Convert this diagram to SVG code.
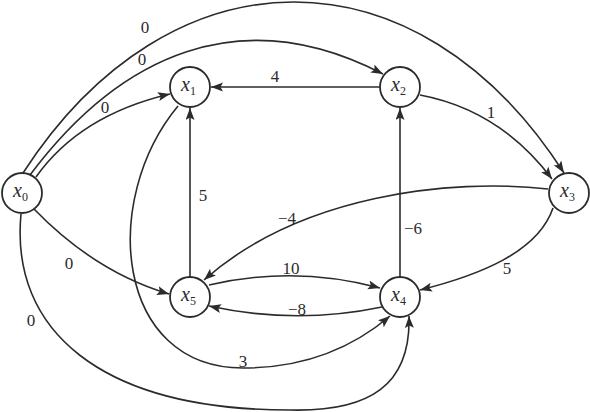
<svg xmlns="http://www.w3.org/2000/svg" width="590" height="412" viewBox="0 0 590 412">
<style>
.e{fill:none;stroke:#2b2b2b;stroke-width:1.6;marker-end:url(#ah)}
.n circle{fill:#fff;stroke:#2b2b2b;stroke-width:1.8}
.nl{font-family:"Liberation Serif","Times New Roman",serif;font-size:20px;font-style:italic;fill:#2b2b2b}
.sb{font-size:12px;font-style:normal}
.w{font-family:"Liberation Serif","Times New Roman",serif;font-size:17px;fill:#2b2b2b;text-anchor:middle}
</style>
<defs>
<marker id="ah" markerUnits="userSpaceOnUse" markerWidth="14" markerHeight="10" refX="12" refY="4.5" orient="auto" viewBox="0 0 14 10">
<path d="M0,0 L12,4.5 L0,9 L2.5,4.5 z" fill="#2b2b2b"/>
</marker>
</defs>
<rect width="590" height="412" fill="#fff"/>
<g id="connectors">
<path class="e" d="M23,173 C170,-54 417,-56 564,173"/>
<path class="e" d="M30,175 C120,55 240,0 383,74"/>
<path class="e" d="M36,177 Q80,115 170,94"/>
<path class="e" d="M34,209 Q95,272 169,294"/>
<path class="e" d="M21,214 C10,330 100,410 290,410 C370,412 411,385 409,316"/>
<path class="e" d="M380,87 L211,87"/>
<path class="e" d="M420,95 Q500,110 552,179"/>
<path class="e" d="M548,189 C450,178 300,195 204,280"/>
<path class="e" d="M553,208 C538,252 480,275 420,290"/>
<path class="e" d="M190,277 L190,108"/>
<path class="e" d="M400,277 L400,108"/>
<path class="e" d="M209,285 Q295,265 380,288"/>
<path class="e" d="M382,307 Q296,325 209,306"/>
<path class="e" d="M178,106 C100,200 115,368 243,368 C300,368 350,350 390,316"/>
<text class="w" x="145" y="33">0</text>
<text class="w" x="142" y="65">0</text>
<text class="w" x="105" y="113">0</text>
<text class="w" x="69" y="269">0</text>
<text class="w" x="31" y="326">0</text>
<text class="w" x="275" y="82">4</text>
<text class="w" x="491" y="118">1</text>
<text class="w" x="203" y="201">5</text>
<text class="w" x="287" y="224">−4</text>
<text class="w" x="413" y="234">−6</text>
<text class="w" x="507" y="274">5</text>
<text class="w" x="291" y="274">10</text>
<text class="w" x="297" y="315">−8</text>
<text class="w" x="243" y="367">3</text>
</g>
<g id="x0" class="n"><circle cx="22" cy="193" r="20"/><text class="nl" x="13" y="197">x<tspan class="sb" dy="4">0</tspan></text></g>
<g id="x1" class="n"><circle cx="190" cy="87" r="20"/><text class="nl" x="181" y="91">x<tspan class="sb" dy="4">1</tspan></text></g>
<g id="x2" class="n"><circle cx="400" cy="87" r="20"/><text class="nl" x="391" y="91">x<tspan class="sb" dy="4">2</tspan></text></g>
<g id="x3" class="n"><circle cx="569" cy="193" r="20"/><text class="nl" x="560" y="197">x<tspan class="sb" dy="4">3</tspan></text></g>
<g id="x4" class="n"><circle cx="400" cy="297" r="20"/><text class="nl" x="391" y="301">x<tspan class="sb" dy="4">4</tspan></text></g>
<g id="x5" class="n"><circle cx="190" cy="297" r="20"/><text class="nl" x="181" y="301">x<tspan class="sb" dy="4">5</tspan></text></g>
</svg>
